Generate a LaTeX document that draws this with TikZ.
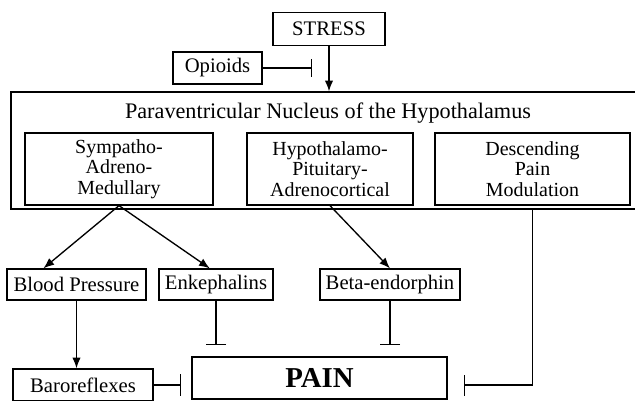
\documentclass[tikz,border=0pt]{standalone}
\usepackage{fontspec}
\setmainfont{Liberation Serif}
\usetikzlibrary{arrows.meta}

\begin{document}
\begin{tikzpicture}[x=0.025cm, y=-0.025cm,
    box/.style={draw, line width=0.9pt, inner sep=0pt, align=center,
        font=\fontsize{14.7}{17}\selectfont},
    inner/.style={box, minimum height=1.8cm, font=\fontsize{14.2}{14.5}\selectfont},
    arr/.style={-{Latex[length=2.7mm,width=2.1mm]}, line width=0.95pt},
    tee/.style={-{Bar[width=#1]}, line width=0.8pt}]

\clip (0,0) rectangle (635,400);

\node[box, minimum width=2.8cm, minimum height=0.825cm] (stress) at (329,29) {STRESS};
\node[box, minimum width=2.225cm, minimum height=0.8cm] (opioids) at (217.5,68) {Opioids};
\coordinate (block) at (312,68);

% hypothalamus frame
\node[box, minimum width=15.725cm, minimum height=2.925cm] (pvn) at (325.5,150.5) {};
\node[font=\fontsize{15.8}{18}\selectfont] (title) at (328,113)
    {Paraventricular Nucleus of the Hypothalamus};

\node[inner, minimum width=4.7cm] (sam) at (119,169) {Sympatho-\\Adreno-\\Medullary};
\node[inner, minimum width=4.15cm] (hpa) at (330,169) {Hypothalamo-\\Pituitary-\\Adrenocortical};
\node[inner, minimum width=4.875cm] (dpm) at (532.5,169) {Descending\\Pain\\Modulation};

% mediators
\node[box, minimum width=3.475cm, minimum height=0.775cm] (bp) at (76.5,284.5) {Blood Pressure};
\node[box, minimum width=2.85cm, minimum height=0.775cm] (enk) at (216,284.5) {Enkephalins};
\node[box, minimum width=3.5cm, minimum height=0.775cm] (beta) at (390,284.5) {Beta-endorphin};

\node[box, minimum width=3.5cm, minimum height=0.8cm] (baro) at (83,385) {Baroreflexes};
\node[box, minimum width=6.375cm, minimum height=1.05cm,
    font=\fontsize{20.5}{24}\selectfont\bfseries] (pain) at (319.5,378) {PAIN};

\draw[arr] (stress) -- (stress |- pvn.north);
\draw[tee=4.25mm] (opioids) -- (block);

\draw[arr] (sam.south) -- (bp.154);
\draw[arr] (sam.south) -- (enk.111);
\draw[arr] (hpa.south) -- (beta.north);
\draw[arr] (bp) -- (bp |- baro.north);

% inhibition of pain
\draw[tee=5mm, shorten >=0.275cm] (enk) -- (enk |- pain.north);
\draw[tee=5mm, shorten >=0.275cm] (beta) -- (beta |- pain.north);
\draw[tee=5.5mm, shorten >=0.25cm] (baro) -- (baro -| pain.west);
\draw[tee=5.25mm, shorten >=0.4cm] (dpm |- pvn.south) |- (baro -| pain.east);

\end{tikzpicture}
\end{document}
